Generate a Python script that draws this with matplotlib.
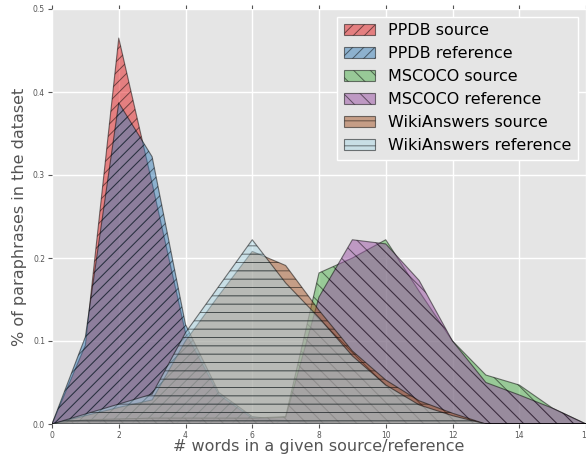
import matplotlib
matplotlib.use("Agg")
import matplotlib.pyplot as plt
import numpy as np

# word counts (x) and fraction of paraphrases
words = list(range(17))
ppdb_source = [0, 0.095, 0.465, 0.29, 0.11, 0.035, 0.007, 0.003, 0.002, 0.001, 0, 0, 0, 0, 0, 0, 0]
ppdb_reference = [0, 0.105, 0.387, 0.322, 0.12, 0.038, 0.009, 0.004, 0.002, 0.001, 0, 0, 0, 0, 0, 0, 0]
mscoco_source = [0, 0.005, 0.006, 0.007, 0.007, 0.007, 0.007, 0.009, 0.182, 0.200, 0.222, 0.160, 0.100, 0.059, 0.047, 0.019, 0]
mscoco_reference = [0, 0.005, 0.006, 0.007, 0.007, 0.007, 0.007, 0.008, 0.153, 0.222, 0.217, 0.173, 0.100, 0.050, 0.035, 0.019, 0]
wiki_source = [0, 0.010, 0.020, 0.029, 0.100, 0.155, 0.208, 0.191, 0.137, 0.088, 0.053, 0.028, 0.013, 0, 0, 0, 0]
wiki_reference = [0, 0.012, 0.024, 0.036, 0.110, 0.166, 0.222, 0.170, 0.128, 0.082, 0.047, 0.023, 0.010, 0, 0, 0, 0]

series = [
    ("PPDB source", ppdb_source, "#E41A1C", "///"),
    ("PPDB reference", ppdb_reference, "#377EB8", "///"),
    ("MSCOCO source", mscoco_source, "#4DAF4A", "\\\\"),
    ("MSCOCO reference", mscoco_reference, "#984EA3", "\\\\"),
    ("WikiAnswers source", wiki_source, "#A65628", "--"),
    ("WikiAnswers reference", wiki_reference, "#ADD8E6", "--"),
]

plt.rcParams["hatch.linewidth"] = 0.7
plt.rcParams["font.family"] = "DejaVu Sans"

fig = plt.figure(figsize=(5.86, 4.61), dpi=100)
ax = fig.add_axes([52 / 586, 37 / 461, 534 / 586, 415 / 461])
ax.set_facecolor("#E5E5E5")
for s in ax.spines.values():
    s.set_visible(False)
ax.grid(True, color="white", linewidth=1.0)
ax.set_axisbelow(True)

for label, vals, color, hatch in series:
    ax.fill_between(words, 0, vals, facecolor=color, edgecolor="black",
                    hatch=hatch, alpha=0.5, linewidth=0.8, label=label)

ax.set_xlim(0, 16)
ax.set_ylim(0, 0.5)
ax.set_xticks(range(0, 17, 2))
ax.set_yticks([0.0, 0.1, 0.2, 0.3, 0.4, 0.5])
ax.set_yticklabels(["0.0", "0.1", "0.2", "0.3", "0.4", "0.5"])
ax.tick_params(top=True, right=True, direction="out", length=3, width=0.8,
               color="#555555", labelsize=5.5, labelcolor="#555555", pad=2)

ax.set_xlabel("# words in a given source/reference", fontsize=11.5, color="#555555")
ax.set_ylabel("% of paraphrases in the dataset", fontsize=11.5, color="#555555")
ax.xaxis.set_label_coords(0.5, -0.036)
ax.yaxis.set_label_coords(-0.047, 0.5)

leg = ax.legend(loc="upper right", fontsize=11.5, frameon=True, fancybox=False,
                borderaxespad=0.5, handlelength=2.0)
leg.get_frame().set_facecolor("#E5E5E5")
leg.get_frame().set_edgecolor("white")
leg.get_frame().set_alpha(1.0)

fig.savefig("out.png", dpi=100)
